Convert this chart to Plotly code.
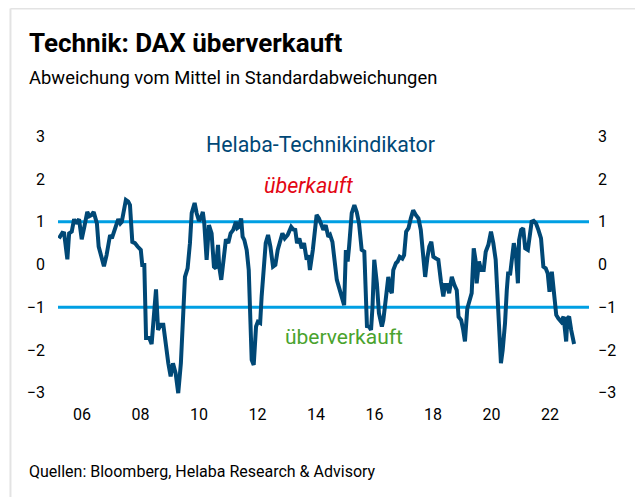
import plotly.graph_objects as go

# Decimal years and indicator values (standard deviations)
years = [2005.21, 2005.33, 2005.39, 2005.50, 2005.56, 2005.65, 2005.73, 2005.79, 2005.90, 2005.99,
         2006.08, 2006.18, 2006.25, 2006.33, 2006.40, 2006.44, 2006.51, 2006.57, 2006.67, 2006.75,
         2006.84, 2006.96, 2007.02, 2007.10, 2007.19, 2007.24, 2007.31, 2007.36, 2007.41, 2007.50,
         2007.58, 2007.64, 2007.72, 2007.81, 2007.90, 2008.01, 2008.06, 2008.13, 2008.19, 2008.30,
         2008.38, 2008.46, 2008.53, 2008.60, 2008.69, 2008.78, 2008.87, 2008.95, 2009.03, 2009.11,
         2009.20, 2009.29, 2009.38, 2009.46, 2009.52, 2009.61, 2009.69, 2009.75, 2009.85, 2009.92,
         2010.00, 2010.07, 2010.13, 2010.18, 2010.26, 2010.34, 2010.43, 2010.51, 2010.58, 2010.65,
         2010.69, 2010.76, 2010.83, 2010.92, 2011.00, 2011.08, 2011.17, 2011.26, 2011.31, 2011.37,
         2011.44, 2011.49, 2011.55, 2011.63, 2011.70, 2011.75, 2011.80, 2011.87, 2011.95, 2012.01,
         2012.09, 2012.14, 2012.22, 2012.28, 2012.36, 2012.44, 2012.53, 2012.61, 2012.69, 2012.77,
         2012.85, 2012.93, 2013.03, 2013.15, 2013.22, 2013.29, 2013.35, 2013.43, 2013.51, 2013.59,
         2013.68, 2013.74, 2013.79, 2013.89, 2013.96, 2014.02, 2014.10, 2014.17, 2014.25, 2014.33,
         2014.42, 2014.48, 2014.56, 2014.71, 2014.82, 2014.96, 2015.02, 2015.08, 2015.13, 2015.22,
         2015.31, 2015.39, 2015.47, 2015.56, 2015.65, 2015.70, 2015.74, 2015.81, 2015.88, 2015.93,
         2015.99, 2016.08, 2016.15, 2016.25, 2016.30, 2016.38, 2016.47, 2016.54, 2016.59, 2016.64,
         2016.73, 2016.79, 2016.86, 2016.95, 2017.01, 2017.08, 2017.16, 2017.24, 2017.32, 2017.41,
         2017.50, 2017.58, 2017.65, 2017.73, 2017.81, 2017.87, 2017.94, 2018.01, 2018.10, 2018.18,
         2018.27, 2018.35, 2018.41, 2018.48, 2018.55, 2018.64, 2018.73, 2018.81, 2018.87, 2018.96,
         2019.03, 2019.09, 2019.17, 2019.26, 2019.32, 2019.39, 2019.45, 2019.49, 2019.57, 2019.64,
         2019.73, 2019.80, 2019.89, 2019.98, 2020.06, 2020.14, 2020.20, 2020.26, 2020.32, 2020.38,
         2020.46, 2020.52, 2020.57, 2020.63, 2020.69, 2020.76, 2020.83, 2020.90, 2020.94, 2021.01,
         2021.08, 2021.15, 2021.24, 2021.31, 2021.37, 2021.44, 2021.52, 2021.60, 2021.69, 2021.77,
         2021.85, 2021.92, 2021.98, 2022.06, 2022.14, 2022.21, 2022.28, 2022.38, 2022.46, 2022.55,
         2022.59, 2022.65, 2022.72, 2022.82]

indicator = [0.61, 0.74, 0.73, 0.12, 0.73, 0.77, 1.06, 0.96, 1.06, 0.59,
             0.88, 1.23, 1.13, 1.16, 1.23, 1.12, 0.96, 0.42, 0.14, -0.04,
             0.22, 0.69, 0.61, 0.81, 0.96, 1.06, 0.96, 1.00, 1.20, 1.51,
             1.47, 1.39, 0.53, 0.50, 0.42, 0.34, -0.01, -0.01, -1.72, -1.72,
             -1.86, -1.14, -0.58, -1.53, -1.41, -1.41, -1.92, -2.31, -2.62, -2.31,
             -2.54, -3.01, -2.31, -0.91, -0.29, -0.09, 0.50, 1.20, 1.44, 1.20,
             1.02, 1.10, 1.23, 0.96, 0.11, 0.92, 0.73, -0.05, -0.09, 0.46,
             -0.05, -0.36, 0.03, 0.59, 0.50, 0.73, 0.81, 1.00, 0.85, 0.88,
             1.08, 0.65, 0.57, 0.34, -0.13, -1.22, -2.23, -2.35, -1.45, -1.34,
             -1.37, -0.75, 0.14, 0.50, 0.69, 0.42, -0.05, -0.01, 0.34, 0.50,
             0.73, 0.61, 0.69, 0.88, 0.82, 0.81, 0.50, 0.61, 0.38, 0.50,
             0.11, 0.22, -0.13, 0.34, 0.88, 1.16, 1.08, 0.92, 0.81, 0.92,
             0.65, 0.69, 0.53, -0.36, -0.60, -0.95, 0.34, 0.07, 0.42, 1.20,
             1.39, 1.23, 0.96, 0.34, 0.30, -0.60, -1.44, -1.45, -1.53, -0.99,
             0.11, -0.44, -1.14, -1.45, -1.30, -0.83, -0.29, -0.60, -0.67, -0.13,
             0.03, 0.07, 0.18, 0.14, 0.22, 0.77, 0.85, 1.08, 1.27, 1.16,
             1.08, 0.81, 0.26, -0.29, 0.18, 0.42, 0.53, 0.18, 0.14, 0.11,
             -0.40, -0.75, -0.48, -0.48, -0.67, -0.29, -0.48, -0.60, -1.22, -1.30,
             -1.53, -1.80, -1.03, -0.83, -0.67, 0.38, 0.11, -0.44, 0.07, -0.13,
             -0.13, 0.30, 0.46, 0.77, 0.50, 0.11, -0.60, -1.69, -2.31, -2.00,
             -1.37, -0.60, -0.17, -0.25, 0.18, 0.50, 0.26, -0.44, 0.57, 0.81,
             0.85, 0.38, 0.34, 0.81, 1.00, 1.02, 0.96, 0.81, 0.61, -0.05,
             -0.09, -0.21, -0.64, -0.17, -0.67, -1.18, -1.26, -1.34, -1.22, -1.80,
             -1.26, -1.22, -1.53, -1.86]

thresholds = [1, -1]
tick_years = [2006, 2008, 2010, 2012, 2014, 2016, 2018, 2020, 2022]
tick_labels = ["06", "08", "10", "12", "14", "16", "18", "20", "22"]
y_ticks = [3, 2, 1, 0, -1, -2, -3]

FONT = "Roboto, sans-serif"
X_RANGE = [2005.18, 2023.33]
Y_RANGE = [-3.1, 3.1]

fig = go.Figure()

for t in thresholds:
    fig.add_trace(go.Scatter(x=X_RANGE, y=[t, t], mode="lines",
                             line=dict(color="#009fe3", width=3.2),
                             hoverinfo="skip", showlegend=False))

fig.add_trace(go.Scatter(x=years, y=indicator, mode="lines",
                         line=dict(color="#004876", width=4),
                         showlegend=False))
# invisible trace for right axis
fig.add_trace(go.Scatter(x=[years[0]], y=[indicator[0]], yaxis="y2", mode="lines",
                         line=dict(width=0), hoverinfo="skip", showlegend=False))

fig.update_layout(
    width=635, height=489,
    margin=dict(l=50, r=54, t=124, b=100),
    paper_bgcolor="white", plot_bgcolor="white",
    font=dict(family=FONT, size=16, color="#000000"),
    xaxis=dict(range=X_RANGE, tickvals=tick_years, ticktext=tick_labels,
               showgrid=False, zeroline=False, showline=False,
               ticks="", ticklabelstandoff=6, tickfont=dict(size=16)),
    yaxis=dict(range=Y_RANGE, tickvals=y_ticks, showgrid=False, zeroline=False,
               showline=False, ticks="", ticklabelstandoff=12, tickfont=dict(size=16)),
    yaxis2=dict(range=Y_RANGE, tickvals=y_ticks, overlaying="y", side="right",
                showgrid=False, zeroline=False, showline=False, ticks="",
                ticklabelstandoff=8, tickfont=dict(size=16)),
)

# card frame
frame = dict(color="#e3e3e3", width=2)
fig.add_shape(type="line", xref="paper", yref="paper", x0=-0.0895, x1=1.0895,
              y0=1.466, y1=1.466, line=frame)
fig.add_shape(type="line", xref="paper", yref="paper", x0=-0.0895, x1=-0.0895,
              y0=1.466, y1=-0.40, line=frame)
fig.add_shape(type="line", xref="paper", yref="paper", x0=1.0895, x1=1.0895,
              y0=1.466, y1=-0.40, line=frame)

fig.add_annotation(text="<b>Technik: DAX überverkauft</b>", xref="paper", yref="paper",
                   x=-0.0584, y=1.336, xanchor="left", yanchor="middle", showarrow=False,
                   font=dict(family=FONT, size=26, color="#000000"))
fig.add_annotation(text="Abweichung vom Mittel in Standardabweichungen", xref="paper", yref="paper",
                   x=-0.0584, y=1.2038, xanchor="left", yanchor="middle", showarrow=False,
                   font=dict(family=FONT, size=18.4, color="#000000"))
fig.add_annotation(text="Quellen: Bloomberg, Helaba Research & Advisory", xref="paper", yref="paper",
                   x=-0.0584, y=-0.283, xanchor="left", yanchor="middle", showarrow=False,
                   font=dict(family=FONT, size=16, color="#000000"))
fig.add_annotation(text="Helaba-Technikindikator", xref="paper", yref="paper",
                   x=0.494, y=0.951, xanchor="center", yanchor="middle", showarrow=False,
                   font=dict(family=FONT, size=21.3, color="#004876"))
fig.add_annotation(text="<i>überkauft</i>", xref="paper", yref="paper",
                   x=0.471, y=0.80, xanchor="center", yanchor="middle", showarrow=False,
                   font=dict(family=FONT, size=21.5, color="#e30613"))
fig.add_annotation(text="überverkauft", xref="paper", yref="paper",
                   x=0.5386, y=0.2264, xanchor="center", yanchor="middle", showarrow=False,
                   font=dict(family=FONT, size=21, color="#4aa32e"))

fig.write_html("out.html")
